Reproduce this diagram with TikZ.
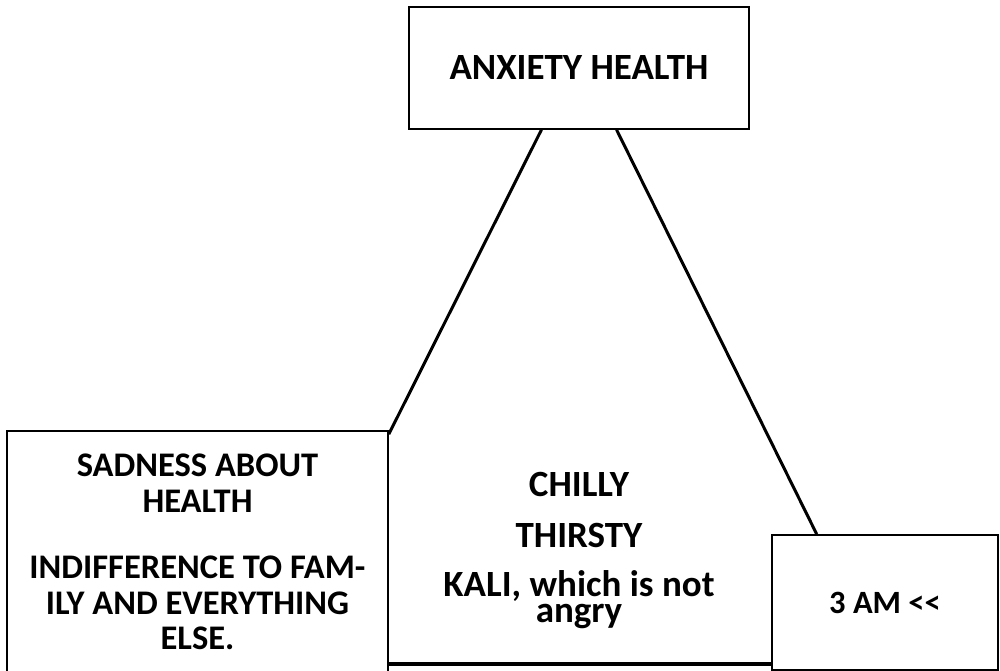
\documentclass[tikz,border=0pt]{standalone}
\usepackage{fontspec}
\setsansfont{Carlito}
\usepackage{tikz}
\usetikzlibrary{positioning,calc}
\tikzset{
  every node/.style={font=\sffamily\bfseries\fontsize{37}{37}\selectfont},
  % --- nodes
  box/.style   = {draw=black, line width=1.6pt, fill=white, align=center,
                  inner sep=0pt},
  mid/.style   = {align=center, inner sep=0pt},
  small/.style = {font=\sffamily\bfseries\fontsize{34.5}{35.5}\selectfont},
  tiny/.style  = {font=\sffamily\bfseries\fontsize{32.5}{33}\selectfont},
  % --- edges
  link/.style  = {draw=black, line width=3pt},
  base/.style  = {draw=black, line width=4pt},
}
\begin{document}
\begin{tikzpicture}[x=1pt,y=1pt]
  \useasboundingbox (0,0) rectangle (1000,671);
  \clip (0,0) rectangle (1000,671);
  % boxes
  \node[box, minimum width=340, minimum height=122] (anx) at (579,603)
    {ANXIETY HEALTH};
  \node[box, small, minimum width=381, minimum height=242] (sad) at (197.5,119)
    {SADNESS ABOUT\\HEALTH\\[31pt]INDIFFERENCE TO FAM-\\ILY AND EVERYTHING\\ELSE.};
  \node[box, tiny, minimum width=226, minimum height=135] (clock) at (885,68.5)
    {3 AM <\kern0pt<};
  % middle
  \node[mid, anchor=north] (body) at (579,198.5)
    {CHILLY\\[14pt]THIRSTY\\[12pt]KALI, which is not\\[-11pt]angry};
  % edges
  \draw[link] ($(anx.south west)!0.39!(anx.south east)$) -- ([yshift=-4pt]sad.north east);
  \draw[link] ($(anx.south west)!0.61!(anx.south east)$) -- ($(clock.north west)!0.2!(clock.north east)$);
  \draw[base] ([yshift=10pt]sad.south east) -- ([yshift=10pt]sad.south east -| clock.west);
\end{tikzpicture}
\end{document}
